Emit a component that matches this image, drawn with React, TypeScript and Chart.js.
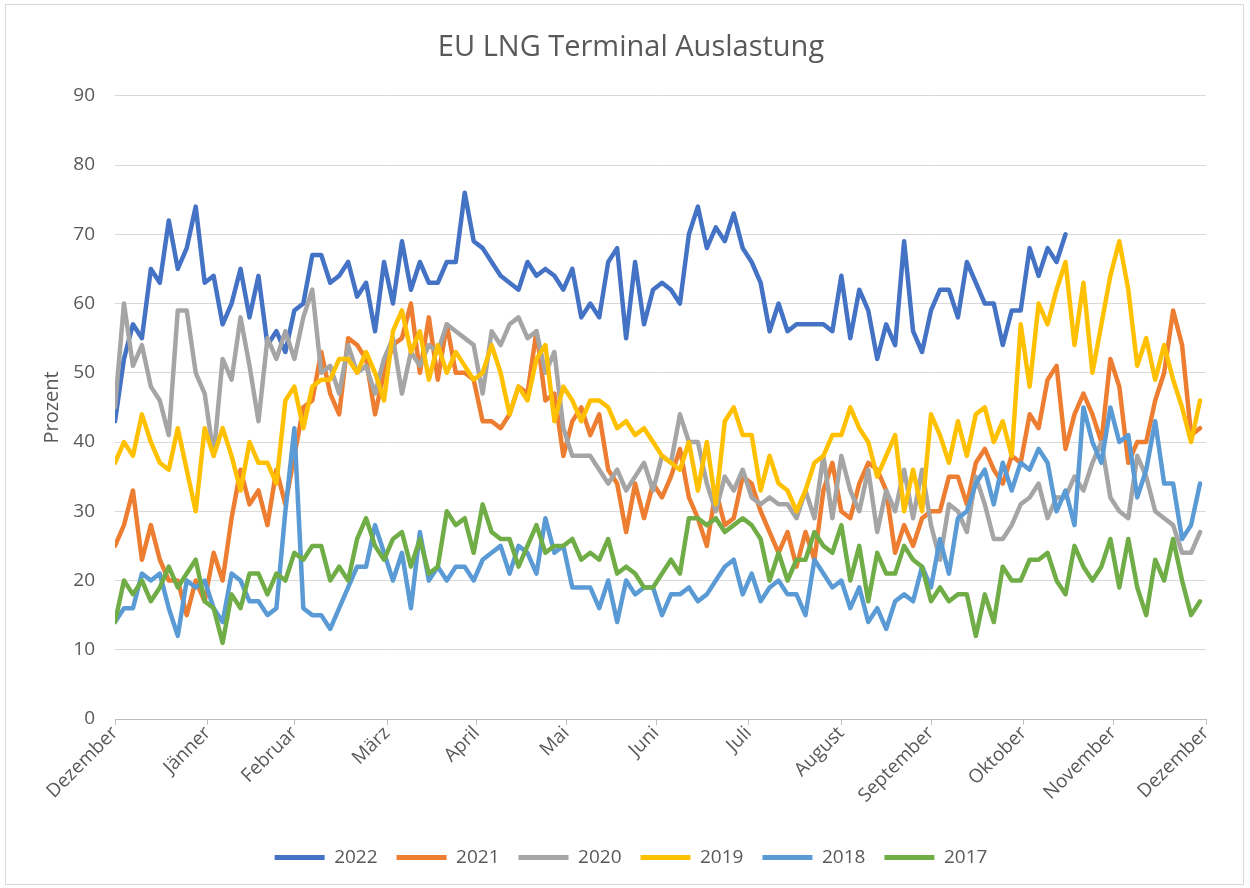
import React, { useEffect, useRef } from "react";
import { Chart, registerables } from "chart.js";

Chart.register(...registerables);

const TITLE = "EU LNG Terminal Auslastung";
const Y_TITLE = "Prozent";
const STEP_DAYS = 3;
const MONTH_TICKS = [0, 31, 60, 91, 121, 151, 181, 212, 243, 273, 304, 334, 365];
const MONTH_LABELS = ["Dezember", "Jänner", "Februar", "März", "April", "Mai", "Juni", "Juli", "August", "September", "Oktober", "November", "Dezember"];
const SERIES_NAMES = ["2022", "2021", "2020", "2019", "2018", "2017"];
const SERIES_COLORS = ["#4472C4", "#ED7D31", "#A5A5A5", "#FFC000", "#5B9BD5", "#70AD47"];

const V2022 = [43, 52, 57, 55, 65, 63, 72, 65, 68, 74, 63, 64, 57, 60, 65, 58, 64, 54, 56, 53, 59, 60, 67, 67, 63, 64, 66, 61, 63, 56, 66, 60, 69, 62, 66, 63, 63, 66, 66, 76, 69, 68, 66, 64, 63, 62, 66, 64, 65, 64, 62, 65, 58, 60, 58, 66, 68, 55, 66, 57, 62, 63, 62, 60, 70, 74, 68, 71, 69, 73, 68, 66, 63, 56, 60, 56, 57, 57, 57, 57, 56, 64, 55, 62, 59, 52, 57, 54, 69, 56, 53, 59, 62, 62, 58, 66, 63, 60, 60, 54, 59, 59, 68, 64, 68, 66, 70];
const V2021 = [25, 28, 33, 23, 28, 23, 20, 20, 15, 20, 17, 24, 20, 29, 36, 31, 33, 28, 36, 31, 38, 45, 46, 53, 47, 44, 55, 54, 52, 44, 50, 54, 55, 60, 50, 58, 49, 57, 50, 50, 49, 43, 43, 42, 44, 48, 47, 56, 46, 47, 38, 43, 45, 41, 44, 36, 34, 27, 34, 29, 34, 32, 35, 39, 32, 29, 25, 33, 28, 29, 35, 34, 30, 27, 24, 27, 22, 27, 23, 33, 37, 30, 29, 34, 37, 36, 33, 24, 28, 25, 29, 30, 30, 35, 35, 31, 37, 39, 36, 34, 38, 37, 44, 42, 49, 51, 39, 44, 47, 44, 40, 52, 48, 37, 40, 40, 46, 50, 59, 54, 41, 42];
const V2020 = [45, 60, 51, 54, 48, 46, 41, 59, 59, 50, 47, 38, 52, 49, 58, 51, 43, 55, 52, 56, 52, 58, 62, 50, 51, 47, 54, 50, 51, 47, 52, 55, 47, 53, 51, 54, 53, 57, 56, 55, 54, 47, 56, 54, 57, 58, 55, 56, 50, 53, 42, 38, 38, 38, 36, 34, 36, 33, 35, 37, 33, 38, 37, 44, 40, 40, 34, 30, 35, 33, 36, 32, 31, 32, 31, 31, 29, 33, 29, 38, 29, 38, 33, 30, 36, 27, 33, 30, 36, 29, 36, 28, 23, 31, 30, 27, 35, 31, 26, 26, 28, 31, 32, 34, 29, 32, 32, 35, 33, 37, 40, 32, 30, 29, 38, 35, 30, 29, 28, 24, 24, 27];
const V2019 = [37, 40, 38, 44, 40, 37, 36, 42, 36, 30, 42, 38, 42, 38, 33, 40, 37, 37, 34, 46, 48, 42, 48, 49, 49, 52, 52, 50, 53, 50, 46, 56, 59, 53, 56, 49, 54, 50, 53, 51, 49, 50, 54, 50, 44, 48, 46, 52, 54, 43, 48, 46, 43, 46, 46, 45, 42, 43, 41, 42, 40, 38, 37, 36, 40, 33, 40, 31, 43, 45, 41, 41, 33, 38, 34, 33, 30, 33, 37, 38, 41, 41, 45, 42, 40, 35, 38, 41, 30, 36, 30, 44, 41, 37, 43, 38, 44, 45, 40, 43, 38, 57, 48, 60, 57, 62, 66, 54, 63, 50, 57, 64, 69, 62, 51, 55, 49, 54, 49, 45, 40, 46];
const V2018 = [14, 16, 16, 21, 20, 21, 16, 12, 20, 19, 20, 16, 14, 21, 20, 17, 17, 15, 16, 30, 42, 16, 15, 15, 13, 16, 19, 22, 22, 28, 24, 20, 24, 16, 27, 20, 22, 20, 22, 22, 20, 23, 24, 25, 21, 25, 24, 21, 29, 24, 25, 19, 19, 19, 16, 20, 14, 20, 18, 19, 19, 15, 18, 18, 19, 17, 18, 20, 22, 23, 18, 21, 17, 19, 20, 18, 18, 15, 23, 21, 19, 20, 16, 19, 14, 16, 13, 17, 18, 17, 22, 19, 26, 21, 29, 30, 34, 36, 31, 37, 33, 37, 36, 39, 37, 30, 33, 28, 45, 40, 37, 45, 40, 41, 32, 36, 43, 34, 34, 26, 28, 34];
const V2017 = [14, 20, 18, 20, 17, 19, 22, 19, 21, 23, 17, 16, 11, 18, 16, 21, 21, 18, 21, 20, 24, 23, 25, 25, 20, 22, 20, 26, 29, 25, 23, 26, 27, 22, 26, 21, 22, 30, 28, 29, 24, 31, 27, 26, 26, 22, 25, 28, 24, 25, 25, 26, 23, 24, 23, 26, 21, 22, 21, 19, 19, 21, 23, 21, 29, 29, 28, 29, 27, 28, 29, 28, 26, 20, 24, 20, 23, 23, 27, 25, 24, 28, 20, 25, 17, 24, 21, 21, 25, 23, 22, 17, 19, 17, 18, 18, 12, 18, 14, 22, 20, 20, 23, 23, 24, 20, 18, 25, 22, 20, 22, 26, 19, 26, 19, 15, 23, 20, 26, 20, 15, 17];

const SERIES_VALUES = [V2022, V2021, V2020, V2019, V2018, V2017];

const FONT = "'Open Sans', sans-serif";
const TEXT_COLOR = "#595959";

export default function App() {
  const canvasRef = useRef<HTMLCanvasElement | null>(null);

  useEffect(() => {
    document.body.style.margin = "0";
    const canvas = canvasRef.current;
    if (!canvas) return;
    const datasets = SERIES_VALUES.map((vals, k) => ({
      label: SERIES_NAMES[k],
      data: vals.map((v, i) => ({ x: i * STEP_DAYS, y: v })),
      borderColor: SERIES_COLORS[k],
      backgroundColor: SERIES_COLORS[k],
      borderWidth: 4.5,
      pointRadius: 0,
      tension: 0,
      borderJoinStyle: "round" as const,
      borderCapStyle: "round" as const,
      order: SERIES_VALUES.length - k,
    }));

    const chart = new Chart(canvas, {
      type: "line",
      data: { datasets },
      options: {
        responsive: false,
        animation: false,
        devicePixelRatio: 1,
        layout: { padding: { left: 40, right: 28, top: 30, bottom: 11 } },
        plugins: {
          title: {
            display: true,
            text: TITLE,
            color: TEXT_COLOR,
            font: { family: FONT, size: 29, weight: "normal" },
            padding: { top: 0, bottom: 31 },
          },
          legend: {
            position: "bottom",
            labels: {
              boxWidth: 50,
              boxHeight: 5,
              padding: 19,
              color: TEXT_COLOR,
              font: { family: FONT, size: 19 },
              generateLabels: (ch: any) =>
                Chart.defaults.plugins.legend.labels
                  .generateLabels(ch)
                  .map((l: any) => ({ ...l, lineWidth: 0, fillStyle: l.strokeStyle })),
              sort: (a: any, b: any) => a.datasetIndex - b.datasetIndex,
            },
          },
          tooltip: { enabled: false },
        },
        scales: {
          x: {
            type: "linear",
            min: 0,
            max: 365,
            afterBuildTicks: (scale: any) => {
              scale.ticks = MONTH_TICKS.map((v) => ({ value: v }));
            },
            afterFit: (scale: any) => {
              scale.height = 110;
            },
            ticks: {
              autoSkip: false,
              maxRotation: 45,
              minRotation: 45,
              color: TEXT_COLOR,
              font: { family: FONT, size: 19 },
              padding: -3,
              callback: (value: any) => {
                const idx = MONTH_TICKS.indexOf(Number(value));
                return idx >= 0 ? MONTH_LABELS[idx] : "";
              },
            },
            grid: { drawOnChartArea: false, drawTicks: true, tickLength: 6, color: "#BFBFBF" },
            border: { color: "#BFBFBF", width: 1 },
          },
          y: {
            min: 0,
            max: 90,
            afterFit: (scale: any) => {
              scale.width = 75;
            },
            ticks: { stepSize: 10, color: TEXT_COLOR, font: { family: FONT, size: 19 }, padding: 20 },
            grid: { color: "#D9D9D9", drawTicks: false },
            border: { display: false },
            title: {
              display: true,
              text: Y_TITLE,
              color: TEXT_COLOR,
              font: { family: FONT, size: 20 },
              padding: { top: 0, bottom: 0 },
            },
          },
          yRight: {
            position: "right",
            display: true,
            afterFit: (scale: any) => {
              scale.width = 16;
            },
            ticks: { display: false },
            grid: { display: false, drawTicks: false },
            border: { display: false },
          },
        },
      },
    });
    return () => chart.destroy();
  }, []);

  return (
    <div style={{ position: "relative", width: 1250, height: 888, background: "#FFFFFF" }}>
      <canvas ref={canvasRef} width={1250} height={888} style={{ display: "block" }} />
      <div
        style={{
          position: "absolute",
          left: 5,
          top: 4,
          width: 1237,
          height: 879,
          border: "1px solid #D9D9D9",
          pointerEvents: "none",
        }}
      />
    </div>
  );
}
